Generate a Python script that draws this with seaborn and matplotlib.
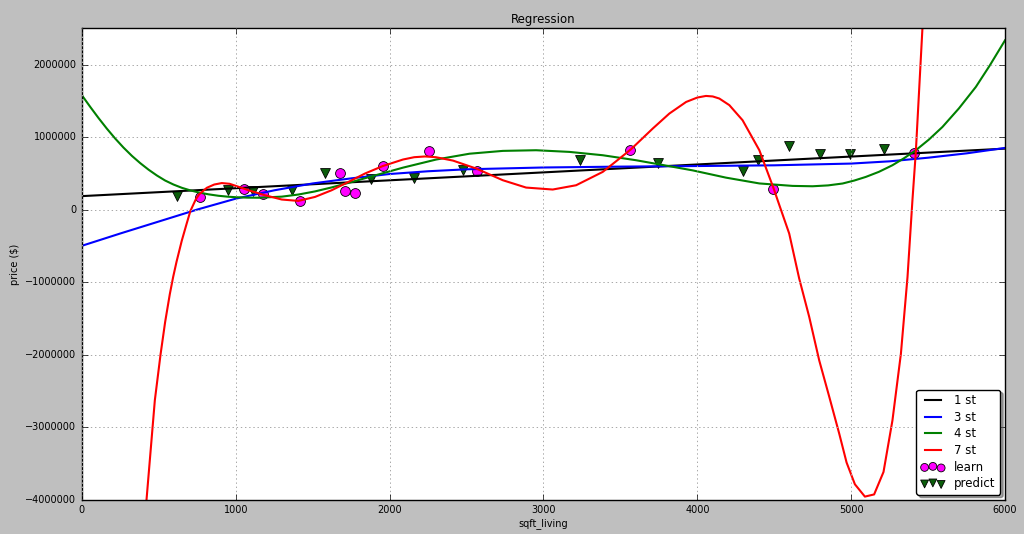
import matplotlib
matplotlib.use("Agg")
import matplotlib.pyplot as plt
import seaborn as sns
import numpy as np

plt.style.use("classic")
plt.rcParams["font.family"] = ["DejaVu Sans"]

# ---- data ----
# degree 1 fit
x_deg1 = [0, 6000]
y_deg1 = [185000, 840000]

# degree 3 fit
x_deg3 = [0, 250, 500, 750, 1000, 1250, 1500, 1750, 2000, 2250, 2500, 3000,
          3500, 4000, 4500, 5000, 5250, 5500, 5750, 6000]
y_deg3 = [-500000, -330000, -165000, 0, 150000, 265000, 360000, 430000, 490000,
          528000, 555000, 580000, 592000, 600000, 610000, 634000, 665000, 715000,
          775000, 850000]

# degree 4 fit
x_deg4 = [0, 54, 108, 162, 216, 270, 325, 379, 433, 487, 541, 595, 649, 703,
          757, 822, 887, 950, 1000, 1075, 1150, 1300, 1407, 1515, 1623, 1750,
          1870, 2087, 2303, 2519, 2736, 2952, 3169, 3385, 3602, 3818, 3970,
          4186, 4403, 4619, 4749, 4850, 4944, 5020, 5095, 5180, 5268, 5345,
          5420, 5505, 5593, 5700, 5810, 5900, 6000]
y_deg4 = [1576000, 1416000, 1262000, 1116000, 980000, 855000, 740000, 640000,
          550000, 470000, 400000, 345000, 300000, 265000, 237000, 210000,
          190000, 177000, 170000, 164000, 163000, 178000, 207000, 250000,
          305000, 378000, 450000, 578000, 690000, 770000, 809000, 818000,
          795000, 749000, 680000, 598000, 540000, 440000, 360000, 326000,
          321000, 333000, 359000, 400000, 450000, 520000, 611000, 710000,
          818000, 965000, 1139000, 1395000, 1691000, 1985000, 2335000]

# degree 7 fit
x_deg7 = [364, 420, 459, 474, 511, 541, 571, 593, 615, 649, 680, 705, 740, 762,
          812, 860, 909, 960, 1030, 1082, 1190, 1299, 1407, 1515, 1623, 1732,
          1840, 1957, 2087, 2160, 2230, 2300, 2412, 2563, 2736, 2887, 3060,
          3212, 3385, 3494, 3569, 3710, 3818, 3927, 4000, 4056, 4100, 4143,
          4208, 4294, 4403, 4496, 4522, 4597, 4662, 4727, 4792, 4857, 4922,
          4970, 5024, 5089, 5149, 5210, 5268, 5323, 5366, 5398, 5420, 5463,
          5500]
y_deg7 = [-5600000, -4000000, -3010000, -2630000, -2000000, -1550000, -1170000,
          -930000, -720000, -430000, -200000, -20000, 140000, 210000, 300000,
          345000, 365000, 355000, 305000, 266000, 197000, 138000, 119000,
          174000, 266000, 381000, 497000, 601000, 690000, 722000, 732000,
          722000, 675000, 565000, 404000, 303000, 276000, 335000, 519000,
          703000, 832000, 1117000, 1324000, 1484000, 1545000, 1567000,
          1560000, 1531000, 1440000, 1232000, 818000, 290000, 128000, -331000,
          -952000, -1480000, -2080000, -2580000, -3090000, -3490000, -3790000,
          -3960000, -3930000, -3620000, -2910000, -1990000, -930000, 128000,
          795000, 2500000, 4200000]

# learn points
learn_x = [766, 1054, 1177, 1416, 1675, 1708, 1777, 1957, 2256, 2567, 3565, 4494, 5409]
learn_y = [174000, 284000, 220000, 114000, 505000, 257000, 229000, 597000,
           804000, 528000, 822000, 284000, 786000]

# predict points
pred_x = [615, 952, 1112, 1364, 1578, 1881, 2156, 2476, 3238, 3747, 4297,
          4392, 4597, 4794, 4991, 5214]
pred_y = [190000, 276000, 257000, 276000, 510000, 418000, 441000, 542000,
          690000, 648000, 528000, 680000, 877000, 763000, 772000, 832000]

curve_labels = ["1 st", "3 st", "4 st", "7 st"]
curve_colors = ["k", "b", "g", "r"]

fig = plt.figure(figsize=(10.24, 5.34), dpi=100, facecolor="#bfbfbf")
ax = fig.add_axes([0.080, 0.0646, 0.9015, 0.8824])

curves = [(x_deg1, y_deg1), (x_deg3, y_deg3), (x_deg4, y_deg4), (x_deg7, y_deg7)]
for (cx, cy), lab, col in zip(curves, curve_labels, curve_colors):
    sns.lineplot(x=cx, y=cy, ax=ax, color=col, label=lab, linewidth=1.5,
                 estimator=None, sort=False)

sns.scatterplot(x=learn_x, y=learn_y, ax=ax, marker="o", color="#ff00ff",
                edgecolor="k", linewidth=0.6, s=50, label="learn")
sns.scatterplot(x=pred_x, y=pred_y, ax=ax, marker="v", color="#0b5e0b",
                edgecolor="k", linewidth=0.6, s=50, label="predict")

ax.set_xlim(0, 6000)
ax.set_ylim(-4000000, 2500000)
ax.set_xticks([0, 1000, 2000, 3000, 4000, 5000, 6000])
ax.set_yticks([-4000000, -3000000, -2000000, -1000000, 0, 1000000, 2000000])
ax.ticklabel_format(style="plain", axis="y", useOffset=False)
ax.tick_params(labelsize=7)
ax.grid(True, color="#a8a8a8", linestyle=(0, (1, 2)), linewidth=0.7)
ax.set_title("Regression", fontsize=8.5, pad=3.5)
ax.set_xlabel("sqft_living", fontsize=7, labelpad=2)
ax.set_ylabel("price ($)", fontsize=7, labelpad=4)

leg = ax.legend(loc="lower right", fontsize=8.5, fancybox=True, shadow=True,
                scatterpoints=3, borderaxespad=0.4, labelspacing=0.3,
                markerscale=0.8)
leg.get_frame().set_edgecolor("k")

fig.savefig("out.png", dpi=100, facecolor=fig.get_facecolor())
